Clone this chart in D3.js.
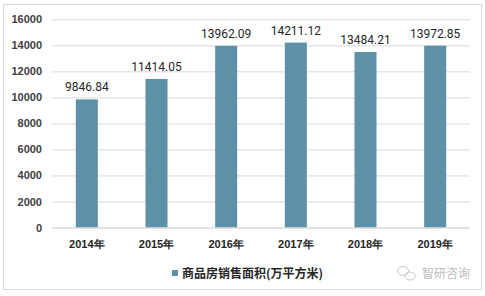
<!DOCTYPE html>
<html>
<head>
<meta charset="utf-8">
<script src="https://cdnjs.cloudflare.com/ajax/libs/d3/7.8.5/d3.min.js"></script>
<style>
  body { margin: 0; background: #fff; }
  svg { display: block; font-family: Roboto, "Noto Sans CJK SC", sans-serif; }
</style>
</head>
<body>
<svg id="chart" width="485" height="296"></svg>
<script>
// data
var years = ["2014年", "2015年", "2016年", "2017年", "2018年", "2019年"];
var area = [9846.84, 11414.05, 13962.09, 14211.12, 13484.21, 13972.85];
var yTicks = [0, 2000, 4000, 6000, 8000, 10000, 12000, 14000, 16000];
var seriesName = "商品房销售面积(万平方米)";

// plot box (note: "top" is reserved on window, so use other names)
var plotLeft = 52, plotRight = 470, plotTop = 19.3, plotBottom = 227.5;
var barColor = "#5e91a7";

var svg = d3.select("#chart");

// outer frame
svg.append("rect")
    .attr("x", 3.5).attr("y", 4.5)
    .attr("width", 478).attr("height", 285)
    .attr("fill", "#fff")
    .attr("stroke", "#d9d9d9");

var x = d3.scaleBand().domain(years).range([plotLeft, plotRight]).paddingInner(0.684).paddingOuter(0.342);
var y = d3.scaleLinear().domain([0, 16000]).range([plotBottom, plotTop]);

// gridlines + y labels
var yAxis = svg.append("g")
    .attr("transform", "translate(" + plotLeft + ",0)")
    .call(d3.axisLeft(y).tickValues(yTicks).tickSize(-(plotRight - plotLeft)).tickPadding(10).tickFormat(d3.format("d")));
yAxis.select(".domain").remove();
yAxis.selectAll(".tick line").attr("stroke", "#d9d9d9");
yAxis.selectAll(".tick text")
    .attr("fill", "#404040")
    .style("font-size", "11px")
    .style("font-weight", "bold");

// bars
svg.selectAll(".bar").data(area).enter().append("rect")
    .attr("class", "bar")
    .attr("x", function(d, i) { return x(years[i]); })
    .attr("y", function(d) { return y(d); })
    .attr("width", x.bandwidth())
    .attr("height", function(d) { return plotBottom - y(d); })
    .attr("fill", barColor);

// value labels
svg.selectAll(".val").data(area).enter().append("text")
    .attr("class", "val")
    .attr("x", function(d, i) { return x(years[i]) + x.bandwidth() / 2; })
    .attr("y", function(d) { return y(d) - 8; })
    .attr("text-anchor", "middle")
    .attr("fill", "#262626")
    .style("font-size", "12px")
    .text(function(d) { return d.toFixed(2); });

// x axis line and labels
svg.append("line")
    .attr("x1", plotLeft).attr("x2", plotRight)
    .attr("y1", plotBottom + 0.5).attr("y2", plotBottom + 0.5)
    .attr("stroke", "#d9d9d9");

var xAxis = svg.append("g")
    .attr("transform", "translate(0," + plotBottom + ")")
    .call(d3.axisBottom(x).tickSize(0).tickPadding(13));
xAxis.select(".domain").remove();
xAxis.selectAll(".tick text")
    .attr("fill", "#262626")
    .style("font-size", "11px")
    .style("font-weight", "bold");

// legend
svg.append("rect")
    .attr("x", 172).attr("y", 270)
    .attr("width", 6).attr("height", 6)
    .attr("fill", barColor);
svg.append("text")
    .attr("x", 182).attr("y", 277.5)
    .attr("fill", "#262626")
    .style("font-size", "12px")
    .style("font-weight", "bold")
    .style("font-family", "'Noto Sans CJK SC', sans-serif")
    .text(seriesName);

// watermark
var wm = svg.append("g").attr("fill", "none").attr("stroke", "#c8c8c8").attr("stroke-width", 1);
wm.append("ellipse").attr("cx", 403).attr("cy", 271).attr("rx", 5.5).attr("ry", 4.5);
wm.append("ellipse").attr("cx", 410).attr("cy", 276).attr("rx", 5).attr("ry", 4);
svg.append("text")
    .attr("x", 422).attr("y", 278)
    .attr("fill", "#bdbdbd")
    .style("font-size", "12px")
    .style("font-family", "'Noto Sans CJK SC', sans-serif")
    .text("智研咨询");
</script>
</body>
</html>
